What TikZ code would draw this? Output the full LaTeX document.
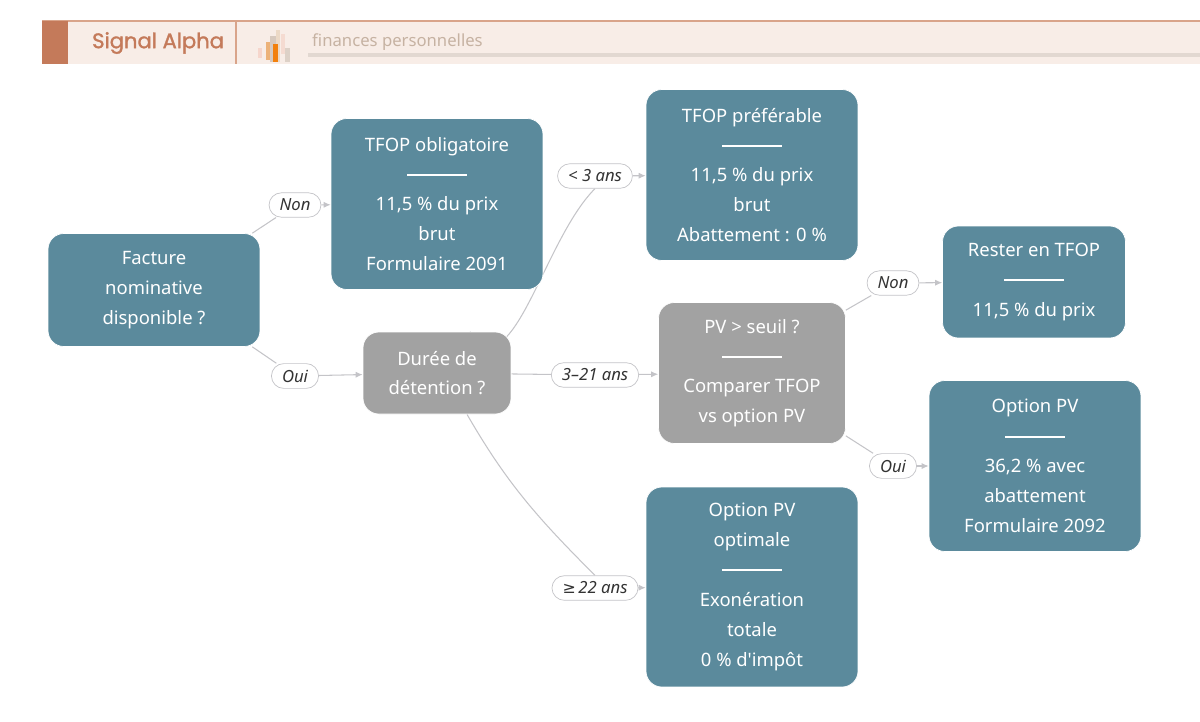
\documentclass[tikz,border=0pt]{standalone}
\usepackage{fontspec}
\setmainfont{Noto Sans}
\newfontfamily\brandfont{Poppins}
\usetikzlibrary{positioning,arrows.meta,backgrounds}
\definecolor{tealbox}{HTML}{5B8A9C}
\definecolor{graybox}{HTML}{A2A2A2}
\definecolor{headbg}{HTML}{F8EDE7}
\definecolor{brandbrown}{HTML}{C47A5A}
\definecolor{headline}{HTML}{D9A48A}
\definecolor{subtext}{HTML}{C6B2A2}
\definecolor{edgegray}{HTML}{C4C4C8}

\tikzset{
  box/.style={rounded corners=9pt, draw=white, align=center, text=white,
    font=\fontsize{10.5}{17}\selectfont, inner sep=2pt},
  tealnode/.style={box, fill=tealbox},
  graynode/.style={box, fill=graybox},
  pill/.style={rounded corners=7pt, draw=edgegray, fill=white, font=\fontsize{9.5}{11}\selectfont\itshape,
    text=black!80, inner xsep=6pt, inner ysep=3.5pt, minimum height=0.46cm},
  edge/.style={draw=edgegray, line width=0.6pt},
  arrow/.style={edge, -{Latex[length=4pt,width=3.5pt]}}
}
\newcommand{\sep}{\rule[3pt]{1.2cm}{1.1pt}}

\begin{document}
\begin{tikzpicture}[x=0.02cm,y=-0.02cm]
	\useasboundingbox (0,0) rectangle (1200,721);
	
	% header
	\fill[headbg] (42,21) rectangle (1200,64);
	\draw[headline, line width=0.8pt] (42,21) -- (1200,21);
	\fill[brandbrown] (42,21) rectangle (68,64);
	\draw[headline, line width=0.8pt] (236,21) -- (236,64);
	\node[anchor=west, text=brandbrown, font=\brandfont\fontsize{12}{14}\selectfont] (brand) at (86,43) {\addfontfeature{FakeBold=1.5}Signal Alpha};
	\fill[subtext!70] (270,36) rectangle (276,62);
	\fill[orange!50!brown!60] (266,42) rectangle (270,60);
	\fill[pink!70!brown!50] (258,48) rectangle (262,58);
	\fill[brown!30] (276,30) rectangle (280,62);
	\fill[orange!80!brown] (273,44) rectangle (278,62);
	\fill[pink!60!brown!40] (281,34) rectangle (285,54);
	\fill[subtext!60] (285,48) rectangle (290,62);
	\node[anchor=west, text=subtext, font=\fontsize{9.5}{11}\selectfont] (sub) at (306,42) {finances personnelles};
	\fill[subtext!50] (308,53) rectangle (1200,57);
	
	% boxes
	\node[tealnode, minimum width=4.24cm, minimum height=2.26cm] (fac) at (154,290) {Facture\\nominative\\disponible ?};
	\node[tealnode, minimum width=4.24cm, minimum height=3.42cm] (tob) at (437,204) {TFOP obligatoire\\\sep\\11,5 \% du prix\\brut\\Formulaire 2091};
	\node[tealnode, minimum width=4.24cm, minimum height=3.42cm] (tpr) at (752,175) {TFOP préférable\\\sep\\11,5 \% du prix\\brut\\Abattement : 0 \%};
	\node[graynode, minimum width=2.96cm, minimum height=1.64cm] (dur) at (437,373) {Durée de\\détention ?};
	\node[graynode, minimum width=3.74cm, minimum height=2.82cm] (pvs) at (752,373) {PV > seuil ?\\\sep\\Comparer TFOP\\vs option PV};
	\node[tealnode, minimum width=3.66cm, minimum height=2.24cm] (rst) at (1034,282) {Rester en TFOP\\\sep\\11,5 \% du prix};
	\node[tealnode, minimum width=4.24cm, minimum height=3.42cm] (opv) at (1035,466) {Option PV\\\sep\\36,2 \% avec\\abattement\\Formulaire 2092};
	\node[tealnode, minimum width=4.24cm, minimum height=4.0cm] (opt) at (752,587) {Option PV\\optimale\\\sep\\Exonération\\totale\\0 \% d\textquotesingle impôt};
	
	% labels
	\node[pill] (lnon1) at (295,205) {Non};
	\node[pill] (loui1) at (295,376) {Oui};
	\node[pill] (lmoins) at (595,176) {< 3 ans};
	\node[pill] (lmid) at (595,375) {3–21 ans};
	\node[pill] (lplus) at (595,588) {\fontspec{DejaVu Sans}\fontsize{9}{11}\selectfont ≥\,\itshape\fontspec{Noto Sans}\fontsize{9.5}{11}\selectfont 22 ans};
	\node[pill] (lnon2) at (893,283) {Non};
	\node[pill] (loui2) at (893,466) {Oui};
	
	% connectors
	\begin{scope}[on background layer]
	\draw[edge] (fac.north east) ++(-8,0) coordinate (c1) (c1) -- (lnon1);
	\draw[arrow] (lnon1) -- (tob);
	\draw[edge] (fac.south east) ++(-8,0) coordinate (c2) (c2) -- (loui1);
	\draw[arrow] (loui1) -- (dur);
	\draw[edge] (dur.north) ++(33,0) coordinate (c3) (c3) to[out=-55,in=-135] (lmoins.south);
	\draw[arrow] (lmoins) -- (tpr);
	\draw[edge] (dur) -- (lmid);
	\draw[arrow] (lmid) -- (pvs);
	\draw[edge] (dur.south) ++(30,0) coordinate (c4) (c4) to[out=-60,in=135] (lplus.north);
	\draw[arrow] (lplus) -- (opt);
	\draw[edge] (pvs.north east) ++(0,8) coordinate (c5) (c5) -- (lnon2);
	\draw[arrow] (lnon2) -- (rst);
	\draw[edge] (pvs.south east) ++(0,-8) coordinate (c6) (c6) -- (loui2);
	\draw[arrow] (loui2) -- (opv);
	\end{scope}
\end{tikzpicture}
\end{document}
